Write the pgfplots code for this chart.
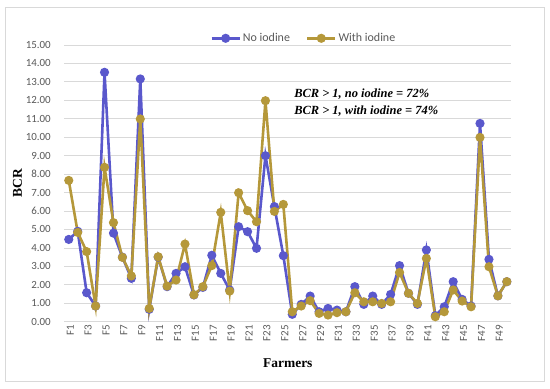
\documentclass[border=0pt]{standalone}
\usepackage{pgfplots}
\pgfplotsset{compat=1.18}
\usepackage{fontspec}
\setmainfont{Liberation Serif}
\newfontfamily\carlito{Carlito}
\definecolor{noI}{HTML}{5A58CC}
\definecolor{withI}{HTML}{B5983A}
\definecolor{tickgray}{HTML}{595959}
\begin{document}
\begin{tikzpicture}[x=1bp,y=1bp]
\path (0,0) rectangle (550,388);
\draw[color=black!15, line width=0.8bp] (5,7) rectangle (544,381);
\begin{axis}[
  at={(64.3bp,66.3bp)}, anchor=south west,
  scale only axis, width=447bp, height=276.7bp,
  xmin=0.5, xmax=50.5, ymin=0, ymax=15,
  xtick={1,3,...,49},
  xticklabels={F1,F3,F5,F7,F9,F11,F13,F15,F17,F19,F21,F23,F25,F27,F29,F31,F33,F35,F37,F39,F41,F43,F45,F47,F49},
  x tick label style={rotate=90, anchor=east, font=\carlito\fontsize{11}{12}\selectfont, text=tickgray, yshift=-1.5bp},
  ytick={0,1,...,15},
  y tick label style={font=\carlito\fontsize{11}{12}\selectfont, text=tickgray, xshift=-10bp, /pgf/number format/.cd, fixed, fixed zerofill, precision=2, assume math mode=true},
  ymajorgrids, grid style={black!15, line width=0.8bp},
  axis line style={draw=none}, major tick length=0pt,
  ylabel={\textbf{BCR}}, xlabel={\textbf{Farmers}},
  every axis y label/.style={at={(rel axis cs:0,0.5)}, rotate=90, anchor=center, yshift=46.8bp, font=\fontsize{13.5}{14}\selectfont},
  every axis x label/.style={at={(rel axis cs:0.5,0)}, anchor=center, yshift=-41bp, font=\fontsize{13.5}{14}\selectfont},
  legend style={at={(0.5,1)}, anchor=center, xshift=16bp, yshift=6.7bp, draw=none, fill=none,
    legend columns=2, font=\carlito\fontsize{12}{13}\selectfont, text=tickgray, inner sep=0pt,
    /tikz/every even column/.append style={column sep=14bp}},
  legend image code/.code={\draw[#1, mark repeat=2, mark phase=2] plot coordinates {(0bp,0bp)(14bp,0bp)(28bp,0bp)};},
  every axis plot/.append style={line width=2.6bp, mark=*, mark size=3.2bp},
]
\addplot[color=noI, mark options={fill=noI, draw=noI}] coordinates {
(1,4.46)(2,4.90)(3,1.57)(4,0.85)(5,13.52)(6,4.80)(7,3.50)(8,2.35)(9,13.16)(10,0.67)
(11,3.50)(12,1.90)(13,2.62)(14,2.98)(15,1.45)(16,1.86)(17,3.60)(18,2.62)(19,1.72)(20,5.15)
(21,4.88)(22,3.98)(23,9.00)(24,6.24)(25,3.58)(26,0.40)(27,0.94)(28,1.39)(29,0.54)(30,0.72)
(31,0.63)(32,0.54)(33,1.90)(34,0.94)(35,1.39)(36,0.94)(37,1.48)(38,3.04)(39,1.54)(40,0.94)
(41,3.89)(42,0.33)(43,0.81)(44,2.17)(45,1.21)(46,0.85)(47,10.75)(48,3.38)(49,1.40)(50,2.17)
};
\addlegendentry{No iodine}
\addplot[color=withI, mark options={fill=withI, draw=withI}] coordinates {
(1,7.66)(2,4.84)(3,3.80)(4,0.85)(5,8.37)(6,5.37)(7,3.49)(8,2.48)(9,10.99)(10,0.72)
(11,3.52)(12,1.93)(13,2.26)(14,4.21)(15,1.46)(16,1.90)(17,3.04)(18,5.93)(19,1.66)(20,6.99)
(21,6.02)(22,5.42)(23,11.98)(24,5.98)(25,6.36)(26,0.54)(27,0.85)(28,1.14)(29,0.45)(30,0.36)
(31,0.49)(32,0.54)(33,1.57)(34,1.08)(35,1.08)(36,0.99)(37,1.08)(38,2.67)(39,1.54)(40,0.99)
(41,3.43)(42,0.27)(43,0.54)(44,1.72)(45,1.12)(46,0.81)(47,9.99)(48,2.98)(49,1.40)(50,2.17)
};
\addlegendentry{With iodine}
\node[anchor=west, inner sep=0pt, font=\bfseries\itshape\fontsize{12.5}{13}\selectfont] at (axis cs:26.2,12.34) {BCR > 1, no iodine = 72\%};
\node[anchor=west, inner sep=0pt, font=\bfseries\itshape\fontsize{12.5}{13}\selectfont] at (axis cs:26.2,11.42) {BCR > 1, with iodine = 74\%};
\end{axis}
\end{tikzpicture}
\end{document}
